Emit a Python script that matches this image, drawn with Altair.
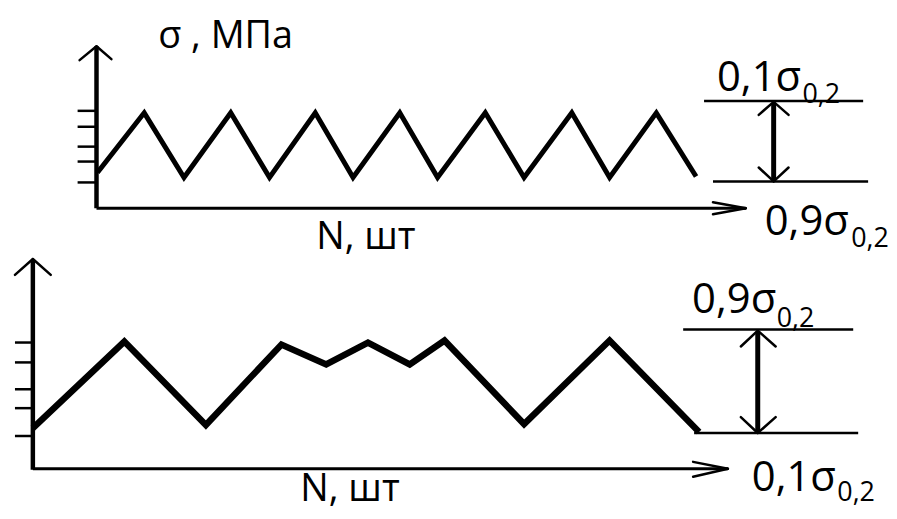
import altair as alt
import pandas as pd

# ---- waveforms (diagram units: x to the right, y downward) ----
top_wave_x = [98, 145, 185, 232, 271, 317, 355, 402, 440, 488, 527, 575, 613, 660, 700]
top_wave_y = [172, 112, 177, 112, 177, 112, 177, 112, 177, 112, 177, 112, 177, 112, 176]

bot_wave_x = [33, 125, 207, 283, 328, 370, 412, 447, 527, 613, 703]
bot_wave_y = [429, 342, 426, 345, 365, 343, 365, 341, 425, 341, 433]

# ---- axes shafts ----
axis_v = {"x": [97, 33], "y": [45, 260], "x2": [97, 33], "y2": [208, 471]}
axis_h = {"x": [97, 33], "y": [208, 470], "x2": [750, 732], "y2": [208, 470]}

# ---- arrow heads (open V) ----
head_x = [80, 112, 717, 717, 15, 51, 697, 697]
head_y = [59, 58, 202, 214, 275, 275, 463, 478]
head_tx = [97, 97, 750, 750, 33, 33, 732, 732]
head_ty = [45, 45, 208, 208, 259, 259, 470, 470]

# ---- y ticks ----
tick_top_y = [110, 126, 146, 161, 182]
tick_bot_y = [343, 363, 390, 409, 437]

# ---- level lines ----
lvl_x = [708, 717, 687, 698]
lvl_x2 = [868, 873, 858, 863]
lvl_y = [100, 181, 330, 434]

# ---- double arrows ----
dbl_x = [778, 762]
dbl_y = [102, 332]
dbl_y2 = [180, 433]
dbl_head_x = [763, 793, 763, 793, 745, 780, 745, 780]
dbl_head_y = [114, 114, 167, 167, 347, 347, 418, 418]
dbl_head_tx = [778, 778, 778, 778, 762, 762, 762, 762]
dbl_head_ty = [101, 101, 181, 181, 331, 331, 434, 434]

# ---- texts ----
main_text = ["σ , МПа", "N, шт", "N, шт"]
main_x = [159, 318, 302]
main_y = [47, 249, 502]

lvl_text = ["0,1σ", "0,9σ", "0,9σ", "0,1σ"]
lvl_text_x = [721, 769, 696, 756]
lvl_text_y = [90, 235, 313, 492]
sub_text = ["0,2", "0,2", "0,2", "0,2"]
sub_x = [807, 856, 781, 842]
sub_y = [102, 247, 327, 502]

W, H = 881, 503
xs = alt.Scale(domain=[8, 8 + W], nice=False, zero=False)
ys = alt.Scale(domain=[8, 8 + H], nice=False, zero=False, reverse=True)

def X(f="x"):
    return alt.X(f"{f}:Q", scale=xs, axis=None)

def Y(f="y"):
    return alt.Y(f"{f}:Q", scale=ys, axis=None)

top_df = pd.DataFrame({"x": top_wave_x, "y": top_wave_y, "i": range(len(top_wave_x))})
bot_df = pd.DataFrame({"x": bot_wave_x, "y": bot_wave_y, "i": range(len(bot_wave_x))})

top_line = alt.Chart(top_df).mark_line(color="black", strokeWidth=5, strokeJoin="miter").encode(
    x=X(), y=Y(), order="i:Q")
bot_line = alt.Chart(bot_df).mark_line(color="black", strokeWidth=6.5, strokeJoin="miter").encode(
    x=X(), y=Y(), order="i:Q")

def segs(d, width, cap="butt"):
    return alt.Chart(pd.DataFrame(d)).mark_rule(color="black", strokeWidth=width, strokeCap=cap).encode(
        x=X("x"), y=Y("y"), x2="x2:Q", y2="y2:Q")

v_axes = segs(axis_v, 4.5)
h_axes = segs(axis_h, 3)
heads = segs({"x": head_x, "y": head_y, "x2": head_tx, "y2": head_ty}, 2.5, "round")
ticks = segs({
    "x": [78] * len(tick_top_y) + [15] * len(tick_bot_y),
    "x2": [97] * len(tick_top_y) + [33] * len(tick_bot_y),
    "y": tick_top_y + tick_bot_y,
    "y2": tick_top_y + tick_bot_y,
}, 2.5)
levels = segs({"x": lvl_x, "x2": lvl_x2, "y": lvl_y, "y2": lvl_y}, 2.5)
dbl = segs({"x": dbl_x, "x2": dbl_x, "y": dbl_y, "y2": dbl_y2}, 5)
dbl_heads = segs({"x": dbl_head_x, "y": dbl_head_y, "x2": dbl_head_tx, "y2": dbl_head_ty}, 2.5, "round")

def texts(t, x, y, size):
    return alt.Chart(pd.DataFrame({"t": t, "x": x, "y": y})).mark_text(
        align="left", baseline="alphabetic", font="Open Sans", fontSize=size, color="black"
    ).encode(x=X(), y=Y(), text="t:N")

main_lbl = texts(main_text, main_x, main_y, 38)
lvl_lbl = texts(lvl_text, lvl_text_x, lvl_text_y, 42)
sub_lbl = texts(sub_text, sub_x, sub_y, 27)

chart = alt.layer(
    ticks, v_axes, h_axes, heads, levels, dbl, dbl_heads, top_line, bot_line,
    main_lbl, lvl_lbl, sub_lbl
).properties(width=W, height=H, padding=0, background="white").configure_view(stroke=None)

chart.save("out.html", embed_options={"renderer": "svg", "actions": False})
